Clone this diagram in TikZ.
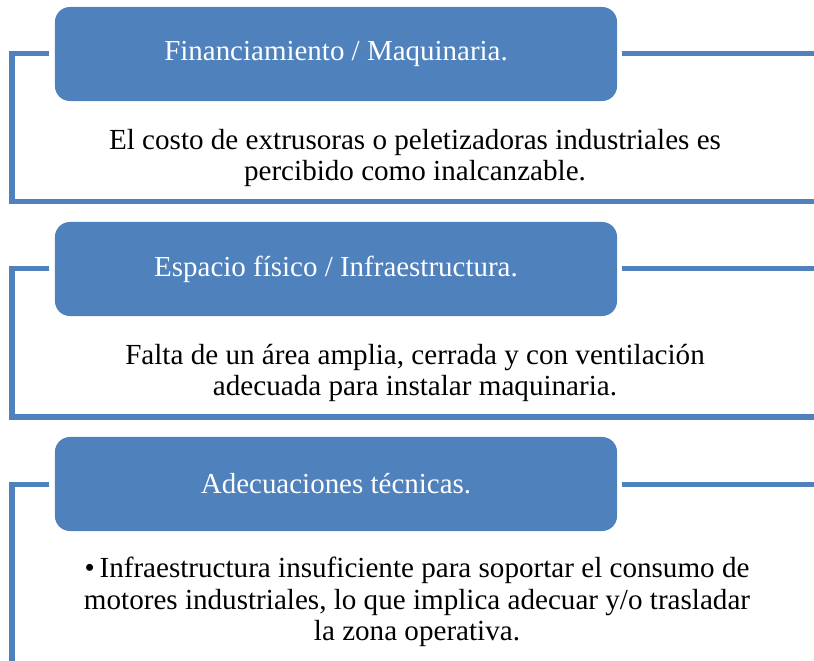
\documentclass[tikz,border=0pt]{standalone}
\usepackage{fontspec}
\setmainfont{Liberation Serif}
\usetikzlibrary{calc}
\definecolor{boxblue}{HTML}{4F81BD}

\begin{document}
\begin{tikzpicture}[x=0.025cm, y=-0.025cm,
  header/.style={fill=boxblue, draw=none, rounded corners=0.375cm,
    minimum width=14.05cm, minimum height=2.35cm, text=white,
    font=\fontsize{20.6}{24}\selectfont},
  bodytext/.style={align=center, font=\fontsize{20.7}{22.6}\selectfont},
  bracket/.style={draw=boxblue, line width=0.125cm}]

\useasboundingbox (0,0) rectangle (814,661);

%header boxes
\node[header] (fin) at (336,54) {Financiamiento / Maquinaria.};
\node[header] (esp) at (336,269) {Espacio físico / Infraestructura.};
\node[header] (ade) at (336,484) {Adecuaciones técnicas.};

%texts below the headers
\node[bodytext] (finTxt) at (415,158) {El costo de extrusoras o peletizadoras industriales es\\ percibido como inalcanzable.};
\node[bodytext] (espTxt) at (415,373) {Falta de un área amplia, cerrada y con ventilación\\ adecuada para instalar maquinaria.};
\node[bodytext] (adeTxt) at (417,602) {\textbullet\,Infraestructura insuficiente para soportar el consumo de\\ motores industriales, lo que implica adecuar y/o trasladar\\ la zona operativa.};

%ends of the lines next to the boxes
\coordinate (finL) at ($(fin.west)+(-6,0)$);
\coordinate (finR) at ($(fin.east)+(5,0)$);
\coordinate (espL) at ($(esp.west)+(-6,0)$);
\coordinate (espR) at ($(esp.east)+(5,0)$);
\coordinate (adeL) at ($(ade.west)+(-6,0)$);
\coordinate (adeR) at ($(ade.east)+(5,0)$);

%brackets
\draw[bracket] (finL) -| (12,202) -- (814,202);
\draw[bracket] (finR) -- (814,54);

\draw[bracket] (espL) -| (12,417) -- (814,417);
\draw[bracket] (espR) -- (814,269);

\draw[bracket] (adeL) -| (12,661);
\draw[bracket] (adeR) -- (814,484);

\end{tikzpicture}
\end{document}
